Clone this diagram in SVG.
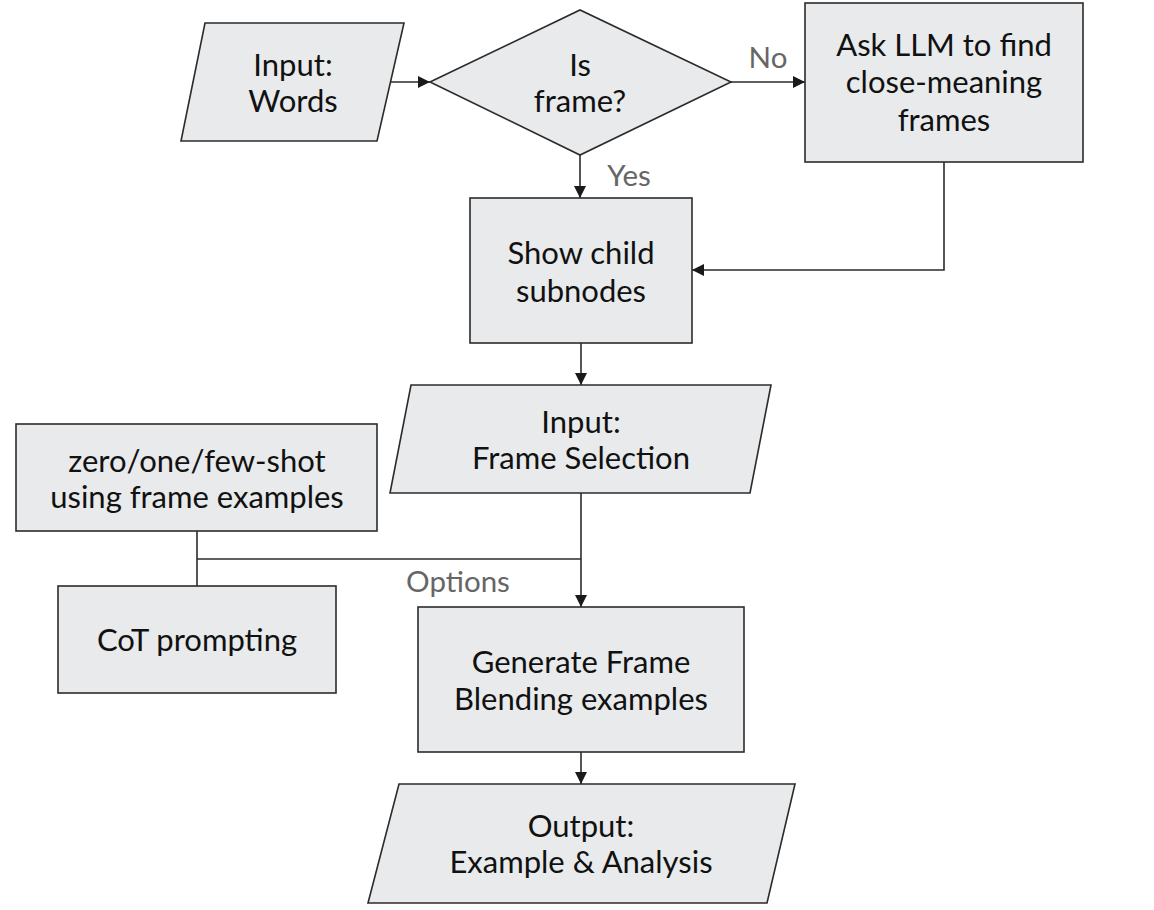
<svg xmlns="http://www.w3.org/2000/svg" width="1154" height="910" viewBox="0 0 1154 910">
<defs>
<marker id="arr" viewBox="0 0 12 12" refX="12" refY="6" markerWidth="12" markerHeight="12" markerUnits="userSpaceOnUse" orient="auto">
<path d="M0,0 L12,6 L0,12 z" fill="#1a1a1a"/>
</marker>
<style>
.shape{fill:#e8eaeb;stroke:#2b2b2b;stroke-width:1.6}
.t{font-family:Lato,"Liberation Sans",sans-serif;font-size:31px;fill:#111;text-anchor:middle}
.lbl{font-family:Lato,"Liberation Sans",sans-serif;font-size:29.5px;fill:#666;text-anchor:middle}
.c{fill:none;stroke:#2b2b2b;stroke-width:1.6}
</style>
</defs>
<rect width="1154" height="910" fill="#fff"/>
<g id="connectors">
<line class="c" x1="391" y1="82" x2="430" y2="82" marker-end="url(#arr)"/>
<line class="c" x1="731" y1="82" x2="805" y2="82" marker-end="url(#arr)"/>
<line class="c" x1="580" y1="155" x2="580" y2="198" marker-end="url(#arr)"/>
<polyline class="c" points="944,162 944,270 692,270" marker-end="url(#arr)"/>
<line class="c" x1="581" y1="343" x2="581" y2="385" marker-end="url(#arr)"/>
<line class="c" x1="581" y1="493" x2="581" y2="607" marker-end="url(#arr)"/>
<line class="c" x1="197" y1="531" x2="197" y2="586"/>
<line class="c" x1="197" y1="559" x2="581" y2="559"/>
<line class="c" x1="581" y1="752" x2="581" y2="784" marker-end="url(#arr)"/>
<text class="lbl" x="768" y="68">No</text>
<text class="lbl" x="629" y="186">Yes</text>
<text class="lbl" x="458" y="592">Options</text>
</g>
<g id="input-words">
<polygon class="shape" points="205,23 404,23 377,141 181,141"/>
<text class="t" x="293" y="76">Input:</text>
<text class="t" x="293" y="112">Words</text>
</g>
<g id="is-frame">
<polygon class="shape" points="430,82 580,10 731,82 580,155"/>
<text class="t" x="580" y="76">Is</text>
<text class="t" x="580" y="112">frame?</text>
</g>
<g id="ask-llm">
<rect class="shape" x="805" y="3" width="278" height="159"/>
<text class="t" x="944" y="56">Ask LLM to find</text>
<text class="t" x="944" y="93">close-meaning</text>
<text class="t" x="944" y="131">frames</text>
</g>
<g id="show-child">
<rect class="shape" x="470" y="198" width="222" height="145"/>
<text class="t" x="581" y="264">Show child</text>
<text class="t" x="581" y="302">subnodes</text>
</g>
<g id="input-frame-selection">
<polygon class="shape" points="411,385 771,385 750,493 390,493"/>
<text class="t" x="581" y="433">Input:</text>
<text class="t" x="581" y="469">Frame Selection</text>
</g>
<g id="zero-shot">
<rect class="shape" x="16" y="424" width="361" height="107"/>
<text class="t" x="197" y="472">zero/one/few-shot</text>
<text class="t" x="197" y="508">using frame examples</text>
</g>
<g id="cot">
<rect class="shape" x="58" y="586" width="278" height="107"/>
<text class="t" x="197" y="651">CoT prompting</text>
</g>
<g id="generate">
<rect class="shape" x="418" y="607" width="326" height="145"/>
<text class="t" x="581" y="673">Generate Frame</text>
<text class="t" x="581" y="710">Blending examples</text>
</g>
<g id="output">
<polygon class="shape" points="399,784 795,784 767,903 368,903"/>
<text class="t" x="581" y="837">Output:</text>
<text class="t" x="581" y="873">Example &amp; Analysis</text>
</g>
</svg>
